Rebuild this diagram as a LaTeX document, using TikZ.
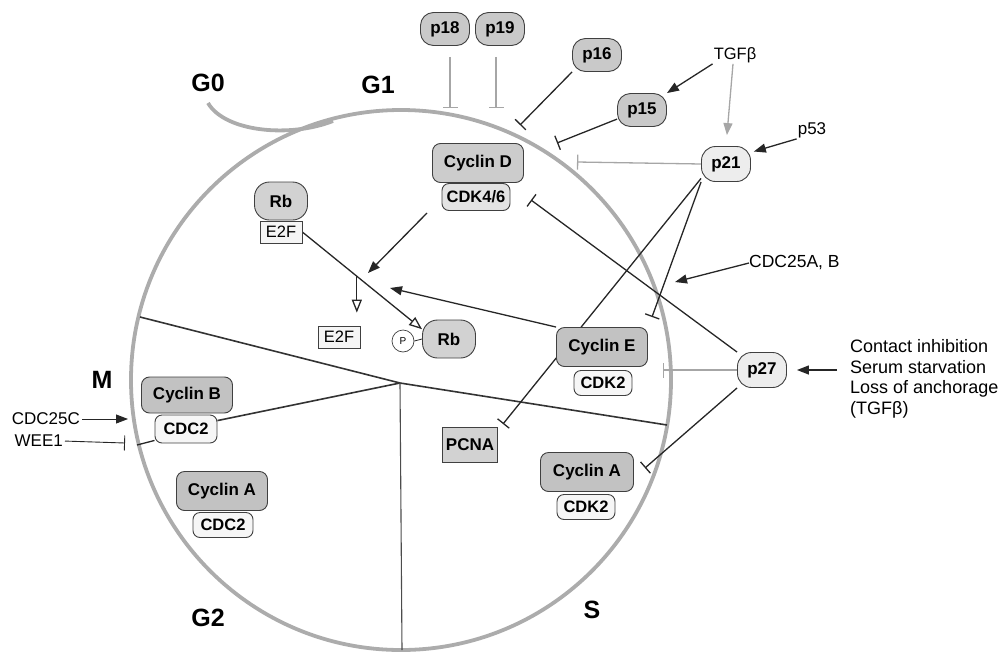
\documentclass[tikz,border=0pt]{standalone}
\usepackage{fontspec}
\setmainfont{Liberation Sans}
\usetikzlibrary{arrows.meta,calc}
\pgfdeclarelayer{bg}
\pgfsetlayers{bg,main}
\begin{document}
\begin{tikzpicture}[x=1pt,y=-1pt,
  base/.style={draw=black!75, line width=0.9pt, inner sep=0pt, align=center},
  cyc/.style={base, fill=gray!48, rounded corners=8pt, minimum width=91pt, minimum height=39pt, font=\fontsize{17}{17}\selectfont\bfseries},
  cdk/.style={base, fill=gray!7, rounded corners=7pt, minimum width=58pt, minimum height=25pt, font=\fontsize{16.5}{16.5}\selectfont\bfseries},
  pn/.style={base, fill=gray!42, rounded corners=13pt, minimum width=49pt, minimum height=33pt, font=\fontsize{17}{17}\selectfont\bfseries},
  pl/.style={base, fill=gray!14, rounded corners=14pt, minimum width=49pt, minimum height=35pt, font=\fontsize{17}{17}\selectfont\bfseries},
  rbn/.style={base, fill=gray!35, rounded corners=15pt, minimum width=53pt, minimum height=38pt, font=\fontsize{17}{17}\selectfont\bfseries},
  e2fn/.style={base, fill=gray!8, line width=0.7pt, minimum width=42pt, minimum height=22pt, font=\fontsize{16.5}{16.5}\selectfont},
  pcnan/.style={base, fill=gray!35, minimum width=55pt, minimum height=35pt, font=\fontsize{17}{17}\selectfont\bfseries},
  pcirc/.style={base, circle, fill=white, line width=0.7pt, minimum size=22pt, font=\fontsize{10}{10}\selectfont},
  lab/.style={inner sep=1pt, font=\fontsize{16.5}{16.5}\selectfont},
  ph/.style={inner sep=0pt, font=\fontsize{25}{25}\selectfont\bfseries},
  cline/.style={draw=gray!65, line width=3.8pt},
  conn/.style={draw=black!85, line width=1.3pt},
  act/.style={conn, -{Triangle[length=12pt,width=9pt]}},
  hol/.style={conn, -{Triangle[open,length=13pt,width=10pt,fill=white]}},
  inh/.style={conn, -{Bar[width=15pt]}},
  lite/.style={draw=gray!70},
  div/.style={draw=black!80, line width=1.6pt},
  vdiv/.style={draw=black!70, line width=1.1pt}
]
\useasboundingbox (0,0) rectangle (1004,651);

% phase labels
\node[ph] (G0) at (208,83) {G0};
\node[ph] (G1) at (378,85) {G1};
\node[ph] (M) at (102,380) {M};
\node[ph] (G2) at (208,618) {G2};
\node[ph] (S) at (592,610) {S};

% inhibitors / regulators
\node[pn] (p18) at (445,29) {p18};
\node[pn] (p19) at (500,29) {p19};
\node[pn] (p16) at (597,55) {p16};
\node[pn] (p15) at (642,110) {p15};
\node[pl] (p21) at (726,164) {p21};
\node[pl] (p27) at (762,370) {p27};
\node[lab] (tgf) at (735,55) {TGFβ};
\node[lab, font=\fontsize{17}{17}\selectfont] (p53) at (812,130) {p53};
\node[lab, anchor=west, inner sep=0pt, font=\fontsize{17.5}{17.5}\selectfont] (cdc25ab) at (749,263) {CDC25A, B};
\node[anchor=north west, inner sep=0pt, align=left, font=\fontsize{18}{20.8}\selectfont] (ext) at (850,339) {Contact inhibition\\Serum starvation\\Loss of anchorage\\(TGFβ)};
\node[lab, anchor=east, inner sep=0pt, font=\fontsize{17}{17}\selectfont] (cdc25c) at (80,419) {CDC25C};
\node[lab, anchor=east, inner sep=0pt, font=\fontsize{17}{17}\selectfont] (wee1) at (63,441) {WEE1};

% complexes
\node[cyc, fill=gray!40] (cycD) at (478,163) {Cyclin D};
\node[cdk, fill=gray!22, minimum width=68pt, minimum height=27pt] (cdk46) at (476,197) {CDK4/6};
\node[rbn] (rb1) at (281,201) {Rb};
\node[e2fn] (e2f1) at (281,232) {E2F};
\node[e2fn] (e2f2) at (339,337) {E2F};
\node[pcirc] (P) at (403,341) {P};
\node[rbn] (rb2) at (449,339) {Rb};
\node[cyc] (cycE) at (602,347) {Cyclin E};
\node[cdk] (cdk2e) at (603,383) {CDK2};
\node[cyc, minimum height=36pt] (cycB) at (187,395) {Cyclin B};
\node[cdk, minimum width=62pt, minimum height=28pt] (cdc2b) at (186,429) {CDC2};
\node[cyc] (cycAl) at (222,491) {Cyclin A};
\node[cdk, minimum width=60pt] (cdc2a) at (223,525) {CDC2};
\node[cyc, minimum width=93pt] (cycAr) at (587,472) {Cyclin A};
\node[cdk] (cdk2a) at (586,507) {CDK2};
\node[pcnan] (pcna) at (470,445) {PCNA};

% named free ends
\coordinate (J) at (400,383);
\coordinate (cl) at (140,317);
\coordinate (cr) at (667,425);
\coordinate (cb) at (402,650);
\coordinate (tp18) at (450,108);
\coordinate (tp19) at (496,108);
\coordinate (tp16) at (520,125);
\coordinate (tp15) at (557,143);
\coordinate (tp21) at (577,162);
\coordinate (tpcna) at (503,424);
\coordinate (tcycE) at (652,317);
\coordinate (tcdk46) at (531,200);
\coordinate (tp27) at (663,370);
\coordinate (tcycA) at (645,468);
\coordinate (tcdc25ab) at (675,282);
\coordinate (extarr) at (837,370);
\coordinate (sD) at (427,213);
\coordinate (jD) at (368,273);
\coordinate (jE2) at (390,288);
\coordinate (tcdc25c) at (128,419);
\coordinate (twee) at (125,443);
\coordinate (cw) at (137,445);
\coordinate (g0s) at (208,103);
\coordinate (g0e) at (333,121);

\begin{pgfonlayer}{bg}
  % cell cycle
  \draw[cline] (401,380) circle[radius=270pt];
  \draw[cline] (g0s) .. controls (225,132) and (290,138) .. (g0e);
  % phase dividers
  \draw[div] (cl) -- (J) -- (cr);
  \draw[div] (cdc2b.15) -- (J);
  \draw[vdiv] (J) -- (cb);
  % inhibitions
  \draw[inh, lite, shorten <=11pt] (p18.south -| tp18) -- (tp18);
  \draw[inh, lite, shorten <=11pt] (p19.south -| tp19) -- (tp19);
  \draw[inh] (p16.south west) -- (tp16);
  \draw[inh] (p15.200) -- (tp15);
  \draw[inh, lite] (p21.west) -- (tp21);
  \draw[inh] (p21.210) -- (tpcna);
  \draw[inh] (p21.south west) -- (tcycE);
  \draw[inh] (p27.north west) -- (tcdk46);
  \draw[inh, lite] (p27.west) -- (tp27);
  \draw[inh] (p27.south west) -- (tcycA);
  \draw[inh, line width=0.9pt, shorten <=2pt] (wee1.east) -- (twee);
  \draw[conn] (cw) -- (cdc2b.200);
  % activations
  \draw[act] (tgf.south west) -- (p15.north east);
  \draw[act, lite, shorten >=11pt] ([xshift=-2pt]tgf.south) -- (p21.north);
  \draw[act, shorten >=3pt] (p53.south west) -- (p21.25);
  \draw[act] (cdc25ab.west) -- (tcdc25ab);
  \draw[act, shorten >=10pt] (extarr) -- (p27.east);
  \draw[act, line width=0.9pt, shorten <=2pt] (cdc25c.east) -- (tcdc25c);
  \draw[act] (sD) -- (jD);
  \draw[act] (cycE.north west) -- (jE2);
  \draw[hol] (e2f1.east) -- (rb2.160);
  \coordinate (jE) at ($(e2f1.east)!0.455!(rb2.160)$);
  \draw[hol, shorten >=13pt] (jE) -- (e2f2.north -| jE);
  \draw[conn, line width=0.8pt] (P.east) -- (rb2.west);
\end{pgfonlayer}
\end{tikzpicture}
\end{document}
